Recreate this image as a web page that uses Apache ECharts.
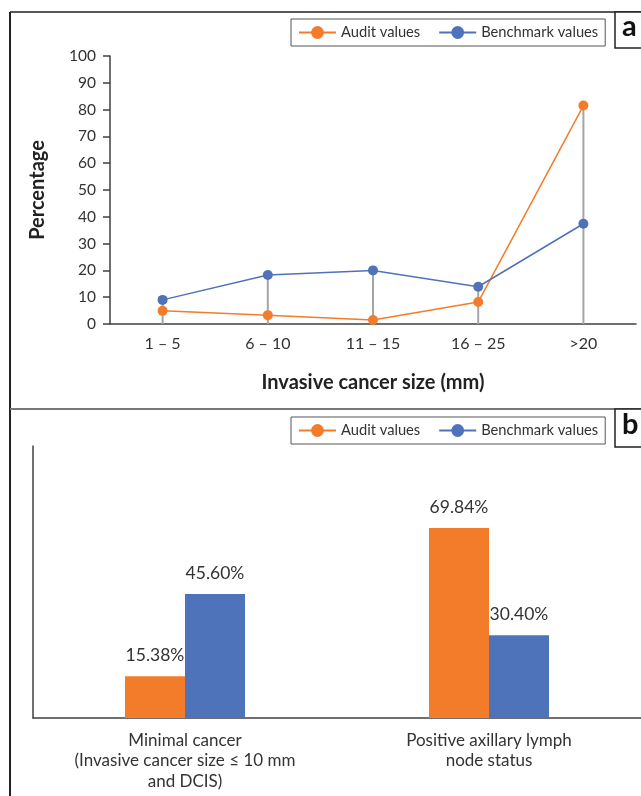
<!DOCTYPE html>
<html>
<head>
<meta charset="utf-8">
<script src="https://cdn.jsdelivr.net/npm/echarts@6/dist/echarts.min.js"></script>
<style>
  html, body { margin: 0; padding: 0; background: #fff; }
  #main { width: 641px; height: 796px; }
</style>
</head>
<body>
<div id="main"></div>
<script>
// panel a: invasive cancer size
const sizeCats = ['1 – 5', '6 – 10', '11 – 15', '16 – 25', '>20'];
const auditSize = [4.9, 3.3, 1.5, 8.2, 81.5];
const benchSize = [9.0, 18.3, 20.0, 13.9, 37.4];
// panel b: minimal cancer / lymph node status
const statusCats = ['Minimal cancer\n(Invasive cancer size ≤ 10 mm\nand DCIS)', 'Positive axillary lymph\nnode status'];
const auditStatus = [15.38, 69.84];
const benchStatus = [45.60, 30.40];
const yTicks = [0, 100, 10];

const ORANGE = '#F37C2A';
const BLUE = '#4E73BA';
const FONT = 'Lato';

// drop lines go from the higher of the two points down to the axis
const dropLines = auditSize.map((v, i) => Math.max(v, benchSize[i]));

const chart = echarts.init(document.getElementById('main'), null, { renderer: 'canvas' });

const legendBase = {
  left: 291,
  padding: [6, 7, 6, 7],
  itemWidth: 37,
  itemHeight: 16,
  itemGap: 18,
  borderColor: '#555',
  borderWidth: 1,
  textStyle: { fontFamily: FONT, fontSize: 14.7, color: '#333' },
  data: ['Audit values', 'Benchmark values']
};

chart.setOption({
  animation: false,
  textStyle: { fontFamily: FONT },
  legend: [
    Object.assign({}, legendBase, { top: 19 }),
    Object.assign({}, legendBase, { top: 417 })
  ],
  grid: [
    { left: 110, right: 5, top: 56, height: 268 },
    { left: 33, right: -2, top: 446, height: 272 }
  ],
  xAxis: [
    {
      gridIndex: 0,
      type: 'category',
      data: sizeCats,
      name: 'Invasive cancer size (mm)',
      nameLocation: 'middle',
      nameGap: 49,
      nameTextStyle: { fontFamily: FONT, fontSize: 20, fontWeight: 'bold', color: '#222' },
      axisLine: { lineStyle: { color: '#404040', width: 1.5 } },
      axisTick: { length: 7, lineStyle: { color: '#404040', width: 1.5 } },
      axisLabel: { fontFamily: FONT, fontSize: 16, color: '#333', margin: 12 }
    },
    {
      gridIndex: 1,
      type: 'category',
      data: statusCats,
      axisLine: { lineStyle: { color: '#404040', width: 1.5 } },
      axisTick: { length: 7, lineStyle: { color: '#404040', width: 1.5 } },
      axisLabel: { fontFamily: FONT, fontSize: 17, color: '#333', margin: 12, lineHeight: 20.5 }
    }
  ],
  yAxis: [
    {
      gridIndex: 0,
      type: 'value',
      min: yTicks[0],
      max: yTicks[1],
      interval: yTicks[2],
      name: 'Percentage',
      nameLocation: 'middle',
      nameGap: 62,
      nameTextStyle: { fontFamily: FONT, fontSize: 20, fontWeight: 'bold', color: '#222' },
      axisLine: { show: true, lineStyle: { color: '#404040', width: 1.5 } },
      axisTick: { show: true, length: 7, lineStyle: { color: '#404040', width: 1.5 } },
      axisLabel: { fontFamily: FONT, fontSize: 15.5, color: '#333', margin: 14 },
      splitLine: { show: false }
    },
    {
      gridIndex: 1,
      type: 'value',
      min: yTicks[0],
      max: yTicks[1],
      axisLine: { show: true, lineStyle: { color: '#404040', width: 1.5 } },
      axisTick: { show: false },
      axisLabel: { show: false },
      splitLine: { show: false }
    }
  ],
  series: [
    {
      name: 'Audit values',
      type: 'line',
      xAxisIndex: 0,
      yAxisIndex: 0,
      data: auditSize,
      symbol: 'circle',
      symbolSize: 10,
      itemStyle: { color: ORANGE },
      lineStyle: { color: ORANGE, width: 1.5 },
      z: 3
    },
    {
      name: 'Benchmark values',
      type: 'line',
      xAxisIndex: 0,
      yAxisIndex: 0,
      data: benchSize,
      symbol: 'circle',
      symbolSize: 10,
      itemStyle: { color: BLUE },
      lineStyle: { color: BLUE, width: 1.5 },
      z: 3
    },
    {
      // drop lines
      name: 'drop',
      type: 'bar',
      xAxisIndex: 0,
      yAxisIndex: 0,
      data: dropLines,
      barWidth: 2,
      itemStyle: { color: '#A5A5A5' },
      silent: true,
      z: 1
    },
    {
      name: 'Audit values',
      type: 'bar',
      xAxisIndex: 1,
      yAxisIndex: 1,
      data: auditStatus,
      barWidth: 60,
      barGap: '0%',
      itemStyle: { color: ORANGE },
      label: {
        show: true,
        position: 'top',
        distance: 12,
        fontFamily: FONT,
        fontSize: 17.5,
        color: '#333',
        formatter: p => p.value.toFixed(2) + '%'
      }
    },
    {
      name: 'Benchmark values',
      type: 'bar',
      xAxisIndex: 1,
      yAxisIndex: 1,
      data: benchStatus,
      barWidth: 60,
      barGap: '0%',
      itemStyle: { color: BLUE },
      label: {
        show: true,
        position: 'top',
        distance: 12,
        fontFamily: FONT,
        fontSize: 17.5,
        color: '#333',
        formatter: p => p.value.toFixed(2) + '%'
      }
    }
  ],
  graphic: [
    // panel frames
    { type: 'line', shape: { x1: 10, y1: 12, x2: 641, y2: 12 }, style: { stroke: '#222', lineWidth: 1.5 } },
    { type: 'line', shape: { x1: 10, y1: 12, x2: 10, y2: 796 }, style: { stroke: '#222', lineWidth: 2 } },
    { type: 'line', shape: { x1: 10, y1: 409, x2: 641, y2: 409 }, style: { stroke: '#777', lineWidth: 2 } },
    // panel letters
    { type: 'rect', shape: { x: 615, y: 12, width: 40, height: 36 }, style: { fill: '#fff', stroke: '#222', lineWidth: 1.5 } },
    { type: 'text', left: 622, top: 12, style: { text: 'a', fontFamily: FONT, fontSize: 29, fontWeight: 'bold', fill: '#111' } },
    { type: 'rect', shape: { x: 615, y: 409, width: 40, height: 38 }, style: { fill: '#fff', stroke: '#222', lineWidth: 1.5 } },
    { type: 'text', left: 622, top: 410, style: { text: 'b', fontFamily: FONT, fontSize: 29, fontWeight: 'bold', fill: '#111' } }
  ]
});
</script>
</body>
</html>
